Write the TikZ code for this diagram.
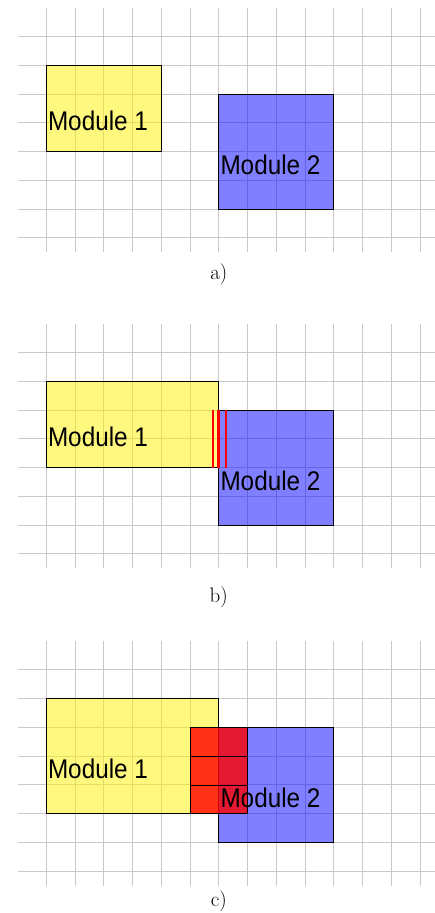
\documentclass[tikz,border=0pt]{standalone}
\usepackage{fontspec}
\newfontfamily\modfont{Liberation Sans}
\usetikzlibrary{positioning}

\newcommand*{\cellsize}{28.75pt}
\newcommand*{\gridright}{13.52}
\newcommand*{\gridbottom}{7.5}

% light grid of one panel, in cell units
\newcommand*{\panelgrid}{%
	\foreach \r in {0,...,7} \draw[gridline] (-1,\r) -- (\gridright,\r);
	\foreach \c in {0,...,13} \draw[gridline] (\c,-1) -- (\c,\gridbottom);
}

\begin{document}
\begin{tikzpicture}
[
	gridline/.style={gray!42,line width=1pt},
	module/.style={draw=black,line width=0.8pt,fill opacity=0.5,inner sep=0pt,outer sep=0pt,anchor=north west},
	modone/.style={module,fill=yellow},
	modtwo/.style={module,fill=blue,minimum width=115pt,minimum height=115pt},
	modtext/.style={font=\modfont\fontsize{27}{27}\selectfont,inner sep=0pt,anchor=west},
	overlap/.style={draw=black,line width=0.8pt,fill=red,fill opacity=0.8,inner sep=0pt,outer sep=0pt,minimum width=57.5pt,minimum height=28.75pt},
	seam/.style={red,line width=1.6pt},
	panellabel/.style={font=\fontsize{21}{21}\selectfont,inner sep=0pt}
]

	\useasboundingbox (0,0) rectangle (435pt,913pt);

	% a) modules apart
	\begin{scope}[shift={(46.3pt,876.3pt)},x=\cellsize,y=-\cellsize]
		\panelgrid
		\node[modone,minimum width=115pt,minimum height=86.25pt] (moda1) at (0,1) {};
		\node[modtwo] (moda2) at (6,2) {};
		\node[modtext,right=1.5pt of moda1.west,yshift=-12.5pt] (moda1txt) {\scalebox{0.9}[1]{Module 1}};
		\node[modtext,right=1.5pt of moda2.west,yshift=-13pt] (moda2txt) {\scalebox{0.9}[1]{Module 2}};
		\node[panellabel] (labela) at (6,8.28) {a)};
	\end{scope}

	% b) modules touching
	\begin{scope}[shift={(46.3pt,560.3pt)},x=\cellsize,y=-\cellsize]
		\panelgrid
		\node[modone,minimum width=172.5pt,minimum height=86.25pt] (modb1) at (0,1) {};
		\node[modtwo] (modb2) at (6,2) {};
		\coordinate (seamtop) at (modb2.north west);
		\coordinate (seambot) at (modb2.north west |- modb1.south);
		\draw[seam,line width=2.8pt] (seamtop) -- (seambot);
		\draw[seam] ([xshift=-6pt]seamtop) -- ([xshift=-6pt]seambot);
		\draw[seam] ([xshift=7pt]seamtop) -- ([xshift=7pt]seambot);
		\node[modtext,right=1.5pt of modb1.west,yshift=-12.5pt] (modb1txt) {\scalebox{0.9}[1]{Module 1}};
		\node[modtext,right=1.5pt of modb2.west,yshift=-13pt] (modb2txt) {\scalebox{0.9}[1]{Module 2}};
		\node[panellabel] (labelb) at (6,8.5) {b)};
	\end{scope}

	% c) modules overlapping
	\begin{scope}[shift={(46.3pt,243pt)},x=\cellsize,y=-\cellsize]
		\panelgrid
		\node[modone,minimum width=172.5pt,minimum height=115pt] (modc1) at (0,1) {};
		\node[modtwo] (modc2) at (6,2) {};
		\node[overlap,anchor=north west] (ovl1) at (5,2) {};
		\node[overlap,below=0pt of ovl1] (ovl2) {};
		\node[overlap,below=0pt of ovl2] (ovl3) {};
		\node[modtext,right=1.5pt of modc1.west,yshift=-12.5pt] (modc1txt) {\scalebox{0.9}[1]{Module 1}};
		\node[modtext,right=1.5pt of modc2.west,yshift=-13pt] (modc2txt) {\scalebox{0.9}[1]{Module 2}};
		\node[panellabel] (labelc) at (6,8.05) {c)};
	\end{scope}

\end{tikzpicture}
\end{document}
